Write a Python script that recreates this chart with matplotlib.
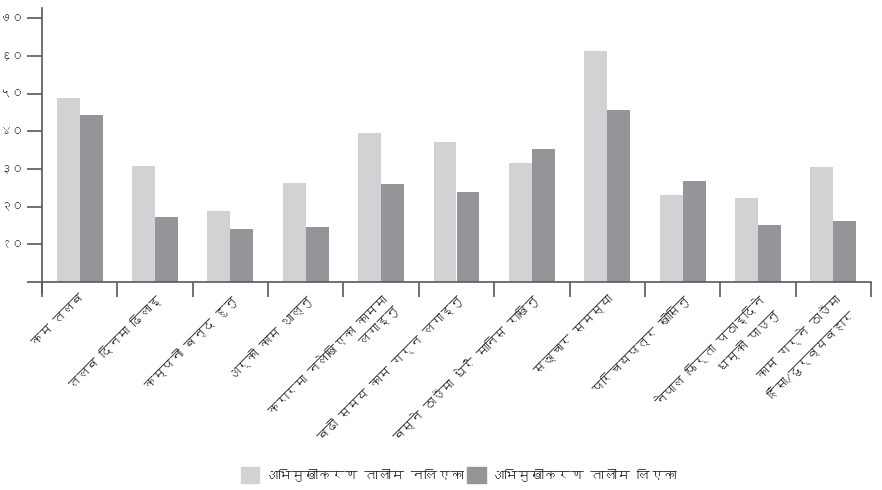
import matplotlib
matplotlib.use("Agg")
import matplotlib.pyplot as plt
from matplotlib import font_manager
from matplotlib.ft2font import FT2Font
from matplotlib.patches import Patch
import numpy as np

categories = [
    "कम तलब",
    "तलब दिनमा ढिलाइ",
    "कम्पनी बन्द हुनु",
    "अर्को काम थाल्नु",
    "करारमा नलेखिएका काममा\nलगाइनु",
    "बढी समय काम गर्न लगाइनु",
    "बस्ने ठाउँमा धेरै मानिस राखिनु",
    "सञ्चार समस्या",
    "परिचयपत्र खोसिनु",
    "नेपाल फिर्ता पठाइदिने\nधम्की पाउनु",
    "काम गर्ने ठाउँमा\nहिंसा/दुर्व्यवहार",
]
series_names = ["अभिमुखीकरण तालीम नलिएका", "अभिमुखीकरण तालीम लिएका"]
not_trained = [48.8, 30.8, 18.8, 26.3, 39.5, 37.1, 31.6, 61.3, 23.1, 22.3, 30.5]
trained = [44.3, 17.2, 14.1, 14.6, 26.0, 23.9, 35.3, 45.6, 26.8, 15.1, 16.2]
yticks = [10, 20, 30, 40, 50, 60, 70]
ytick_labels = ["१०", "२०", "३०", "४०", "५०", "६०", "७०"]

# find a font with Devanagari glyphs
families = []
for f in font_manager.fontManager.ttflist:
    try:
        cmap = FT2Font(f.fname).get_charmap()
        if 0x0915 in cmap and 0x0967 in cmap:
            if f.name not in families:
                families.append(f.name)
    except Exception:
        pass
fam = families[:1] + ["DejaVu Sans"]
plt.rcParams["font.family"] = fam

light = "#d1d2d4"
dark = "#939598"
axis_col = "#58595b"
text_col = "#231f20"

fig = plt.figure(figsize=(8.82, 4.9), dpi=100)
ax = fig.add_axes([42 / 882, (490 - 282) / 490, (871 - 42) / 882, (282 - 8) / 490])

x = np.arange(len(categories))
w = 0.305
ax.bar(x - w / 2, not_trained, width=w, color=light, label=series_names[0])
ax.bar(x + w / 2, trained, width=w, color=dark, label=series_names[1])

ax.set_xlim(-0.5, len(categories) - 0.5)
ax.set_ylim(0, 72.7)
ax.set_yticks([0] + yticks)
ax.set_yticklabels([""] + ytick_labels, fontsize=8.5, color=text_col)
ax.tick_params(axis="y", length=11, width=1.2, color=axis_col, pad=2)

ax.set_xticks(np.arange(len(categories) + 1) - 0.5)
ax.set_xticklabels([])
ax.tick_params(axis="x", length=11, width=1.2, color=axis_col)
ax.set_xticks(x, minor=True)
ax.set_xticklabels(categories, minor=True, rotation=45, ha="right",
                   rotation_mode="anchor", fontsize=9, color=text_col,
                   multialignment="right", linespacing=1.6)
ax.tick_params(axis="x", which="minor", length=0, pad=8)

for s in ["top", "right"]:
    ax.spines[s].set_visible(False)
for s in ["left", "bottom"]:
    ax.spines[s].set_color(axis_col)
    ax.spines[s].set_linewidth(1.2)
ax.spines["left"].set_bounds(-3, 72.7)

handles = [Patch(color=light), Patch(color=dark)]
fig.legend(handles, series_names, loc="center", bbox_to_anchor=(0.52, 1 - 475 / 490),
           ncol=2, frameon=False, fontsize=9.5, handlelength=1.4, handleheight=1.4,
           handletextpad=0.4, columnspacing=0.3, labelcolor=text_col)

fig.savefig("out.png", dpi=100)
